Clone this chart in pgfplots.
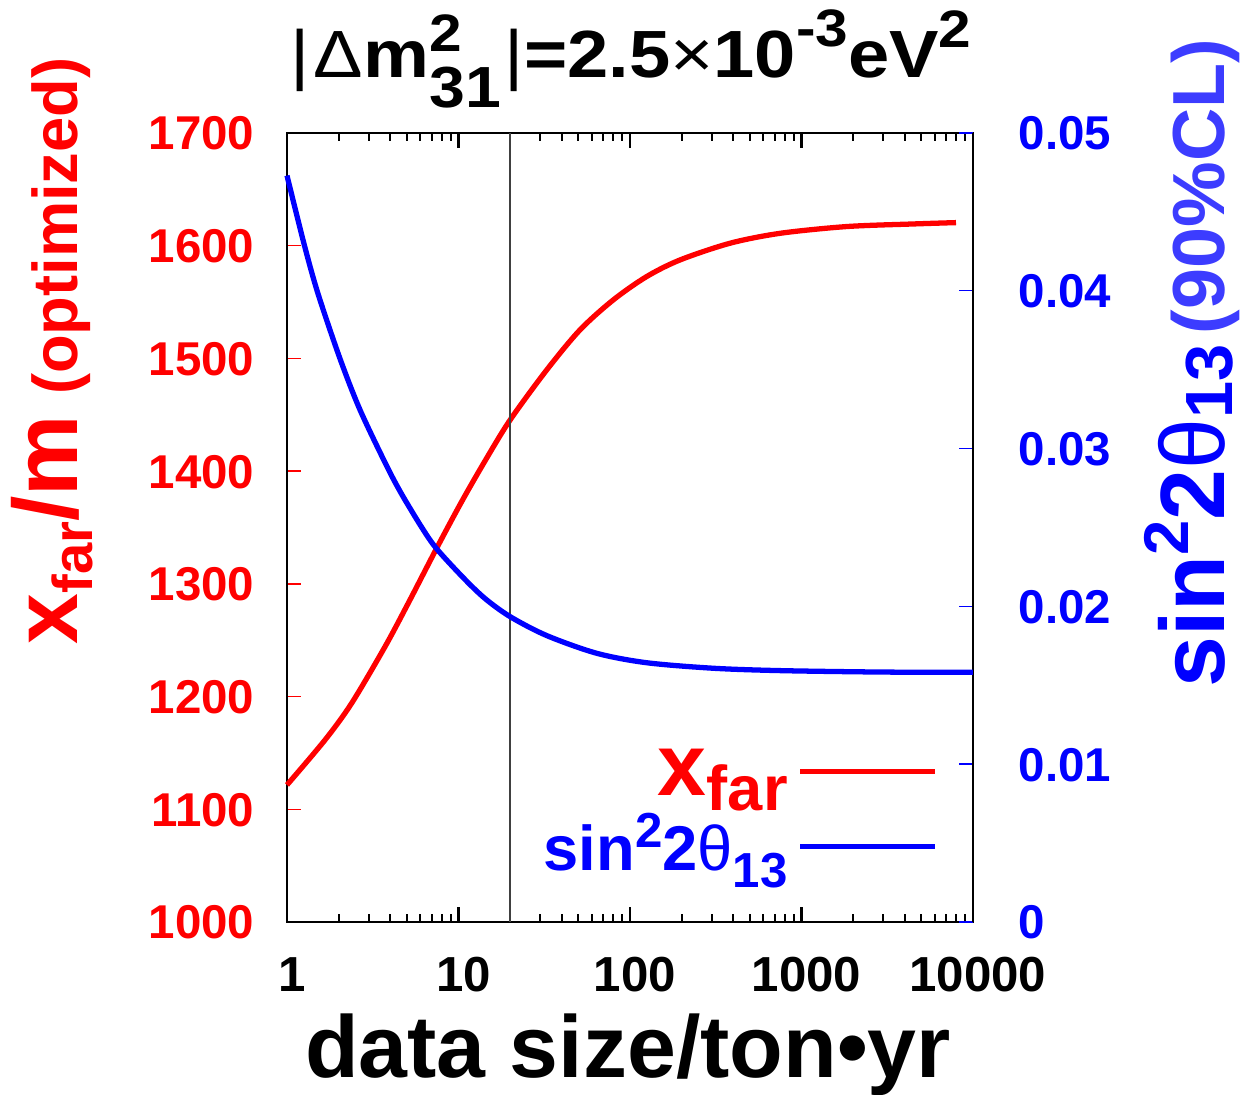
\documentclass[border=0pt]{standalone}
\usepackage{fontspec}
\setmainfont{Liberation Sans}
\usepackage{pgfplots}
\pgfplotsset{compat=1.18}
\definecolor{clblue}{RGB}{60,60,255}
\newcommand{\sz}[1]{\fontsize{#1}{#1}\selectfont}

\begin{document}
\begin{tikzpicture}
\useasboundingbox (-28.7mm,-17.3mm) rectangle (95.8mm,92.2mm);
% left axis: far detector distance
\begin{axis}[
  width=68.6mm, height=78.9mm, scale only axis, at={(0mm,0mm)}, anchor=south west,
  xmode=log, xmin=1, xmax=10000, clip=false,
  tick align=inside, major tick length=1.45mm, minor tick length=0.75mm,
  axis line style={line width=0.65pt},
  ymin=1000, ymax=1700,
  xtick={1,10,100,1000,10000}, xticklabels={1,10,100,1000,10000},
  minor xtick={2,3,4,5,6,7,8,9,20,30,40,50,60,70,80,90,200,300,400,500,600,700,800,900,2000,3000,4000,5000,6000,7000,8000,9000},
  xtick pos=both,
  ytick={1000,1100,1200,1300,1400,1500,1600,1700},
  yticklabels={1000,1100,1200,1300,1400,1500,1600,1700},
  ytick pos=left,
  xticklabel style={font=\sz{14}\bfseries, anchor=base, inner sep=0pt, yshift=-7mm, xshift=0.5mm},
  yticklabel style={font=\sz{13.5}\bfseries, text=red, anchor=base east, inner sep=0pt, xshift=-3.2mm, yshift=-4.8pt},
  x tick style={black, line width=0.6pt},
  y tick style={red, line width=0.4pt},
]
\addplot[red, line width=1.5pt, smooth] coordinates {
  (1,1121.6) (1.666,1161.5) (2.38,1194) (3.73,1244.3) (5.10,1283)
  (7.46,1331.6) (10.44,1373) (14.4,1410) (20,1445.4) (32.7,1489.8)
  (51.1,1525.3) (79.9,1551.9) (125,1572.6) (196,1587.4) (383,1602.2)
  (750,1611) (1834,1617) (4487,1619.3) (7962,1620.5)};
\end{axis}
% right axis: sensitivity
\begin{axis}[
  width=68.6mm, height=78.9mm, scale only axis, at={(0mm,0mm)}, anchor=south west,
  xmode=log, xmin=1, xmax=10000, clip=false,
  tick align=inside, major tick length=1.45mm,
  axis line style={line width=0.65pt},
  axis x line=none, axis y line*=right,
  ymin=0, ymax=0.05, scaled y ticks=false,
  ytick={0,0.01,0.02,0.03,0.04,0.05},
  yticklabels={0,0.01,0.02,0.03,0.04,0.05},
  yticklabel style={font=\sz{13.5}\bfseries, text=blue, anchor=base west, inner sep=0pt, xshift=4.5mm, yshift=-4.8pt},
  y tick style={blue, line width=0.4pt},
  legend style={at={(0.949,0.228)}, anchor=north east, draw=none, fill=none,
    inner sep=0pt, outer sep=0pt, row sep=-0.2mm, column sep=0.3mm,
    cells={anchor=base east, inner sep=0pt}},
  legend plot pos=right,
  legend image code/.code={\draw[#1] (0mm,2.4mm) -- (13.5mm,2.4mm);},
]
\addplot[black!75, line width=0.4pt, forget plot] coordinates {(20,0) (20,0.05)};
\addlegendimage{red, line width=1.5pt}
\addlegendentry{\textcolor{red}{\sz{25}\bfseries x\raisebox{-1.5mm}{\sz{18}far}}}
\addplot[blue, line width=1.5pt, smooth] coordinates {
  (1,0.0473) (1.262,0.0429) (1.518,0.0398) (2.037,0.0357) (2.666,0.03245)
  (3.814,0.0289) (4.67,0.0271) (6.11,0.0250) (7.46,0.02365) (10.7,0.0218)
  (14.27,0.0205) (20,0.01935) (32.7,0.01815) (63.9,0.01703) (125,0.01643)
  (306,0.01608) (750,0.01593) (2869,0.01584) (10000,0.01582)};
\addlegendentry{\textcolor{blue}{\sz{18}\bfseries sin\raisebox{2.3mm}{\sz{14}2}2{\mdseries θ}\raisebox{-1.7mm}{\sz{14}13}}}
\end{axis}
% title and axis labels
\node[anchor=base, inner sep=0pt, font=\sz{19}\bfseries] at (34.4mm,84.4mm)
  {\scalebox{1.11}[1]{{\mdseries|\kern1pt Δ}m\rlap{\raisebox{2.6mm}{\sz{15}2}}\raisebox{-3mm}{\sz{16.5}31}{\mdseries\kern1pt|}=2.5{\mdseries×}10\raisebox{3.1mm}{\sz{15}-3}eV\raisebox{3mm}{\sz{15}2}}};
\node[anchor=base, inner sep=0pt, font=\sz{25}\bfseries] at (34.1mm,-15.6mm) {data size/ton•yr};
\node[rotate=90, anchor=base west, inner sep=0pt, text=red, font=\bfseries] at (-20.9mm,27.7mm)
  {\sz{26}x\raisebox{-1.5mm}{\sz{16}far}/m\hspace{2mm}\sz{18}(optimized)};
\node[rotate=90, anchor=base west, inner sep=0pt, text=blue, font=\bfseries] at (93.7mm,23.4mm)
  {\sz{26}sin\raisebox{3.6mm}{\sz{18}2}2{\mdseries θ}\raisebox{-0.8mm}{\sz{19}13}\hspace{1mm}\textcolor{clblue}{\sz{21}(90\%CL)}};
\end{tikzpicture}
\end{document}
